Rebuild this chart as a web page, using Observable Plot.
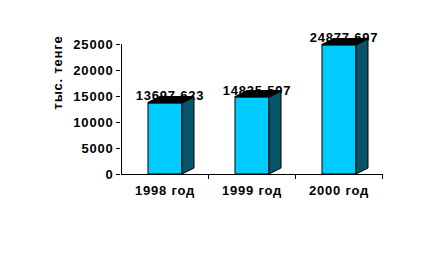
<!DOCTYPE html>
<html>
<head>
<meta charset="utf-8">
<script src="https://cdn.jsdelivr.net/npm/d3@7"></script>
<script src="https://cdn.jsdelivr.net/npm/@observablehq/plot@0.6"></script>
<style>
  html, body { margin: 0; padding: 0; background: #fff; }
  svg { display: block; }
</style>
</head>
<body>
<div id="chart"></div>
<script>
const categories = ["1998 год", "1999 год", "2000 год"];
const values = [13697.623, 14835.597, 24877.697];
const valueLabels = ["13697,623", "14835,597", "24877,697"];
const yTicks = [0, 5000, 10000, 15000, 20000, 25000];
const yLabel = "тыс. тенге";

const data = categories.map((c, i) => ({cat: c, value: values[i], label: valueLabels[i]}));

const FRONT = "#00CCFF";
const SIDE = "#085468";
const DEPTH_X = 12, DEPTH_Y = 6;
const INSET_L = 27, INSET_R = 26;

function faces(index, scales) {
  const g = d3.create("svg:g");
  const bw = scales.x.bandwidth();
  for (const i of index) {
    const d = data[i];
    const x0 = scales.x(d.cat) + INSET_L;
    const x1 = scales.x(d.cat) + bw - INSET_R;
    const y0 = scales.y(0), y1 = scales.y(d.value);
    g.append("polygon")
      .attr("points", [[x1, y0], [x1 + DEPTH_X, y0 - DEPTH_Y], [x1 + DEPTH_X, y1 - DEPTH_Y], [x1, y1]].map(p => p.join(",")).join(" "))
      .attr("fill", SIDE).attr("stroke", "#000").attr("stroke-width", 1);
    g.append("polygon")
      .attr("points", [[x0, y1], [x1, y1], [x1 + DEPTH_X, y1 - DEPTH_Y], [x0 + DEPTH_X, y1 - DEPTH_Y]].map(p => p.join(",")).join(" "))
      .attr("fill", "#000").attr("stroke", "#000").attr("stroke-width", 1.5);
  }
  return g.node();
}

function axesLines(index, scales) {
  const g = d3.create("svg:g").attr("stroke", "#000").attr("stroke-width", 1);
  const bw = scales.x.bandwidth();
  const y0 = scales.y(0);
  const yTop = scales.y(yTicks[yTicks.length - 1]);
  const xl = scales.x(categories[0]);
  const xr = scales.x(categories[categories.length - 1]) + bw;
  g.append("line").attr("x1", xl + 0.5).attr("x2", xl + 0.5).attr("y1", yTop).attr("y2", y0);
  g.append("line").attr("x1", xl).attr("x2", xr).attr("y1", y0 + 0.5).attr("y2", y0 + 0.5);
  for (const c of categories) {
    const xb = Math.round(scales.x(c) + bw) + 0.5;
    g.append("line").attr("x1", xb).attr("x2", xb).attr("y1", y0).attr("y2", y0 + 5);
  }
  return g.node();
}

const chart = Plot.plot({
  width: 437,
  height: 259,
  marginLeft: 120,
  marginRight: 54,
  marginTop: 44,
  marginBottom: 85,
  style: {fontFamily: "'Liberation Sans', Arial, sans-serif", fontSize: "13px", fontWeight: "bold", color: "#000", background: "#fff", letterSpacing: "0.8px"},
  x: {type: "band", domain: categories, padding: 0, label: null},
  y: {domain: [0, 25000], label: null},
  marks: [
    Plot.axisY({ticks: yTicks, tickSize: 4, tickPadding: 3, tickFormat: d => String(d), label: null, fontSize: 13, fontWeight: "bold"}),
    Plot.axisX({tickSize: 0, tickPadding: 11, label: null, fontSize: 13, fontWeight: "bold"}),
    Plot.text([yLabel], {frameAnchor: "left", dx: -63, rotate: -90, fontSize: 13, fontWeight: "bold", fill: "#000"}),
    Plot.text(data, {x: "cat", y: "value", text: "label", dx: 5, dy: -7, fontSize: 13, fontWeight: "bold", fill: "#000"}),
    Plot.barY(data, {x: "cat", y: "value", insetLeft: INSET_L, insetRight: INSET_R, fill: FRONT, stroke: "#000", strokeWidth: 1}),
    Plot.barY(data, {x: "cat", y: "value", render: faces}),
    Plot.barY(data, {x: "cat", y: "value", render: axesLines})
  ]
});
document.getElementById("chart").appendChild(chart);
</script>
</body>
</html>
